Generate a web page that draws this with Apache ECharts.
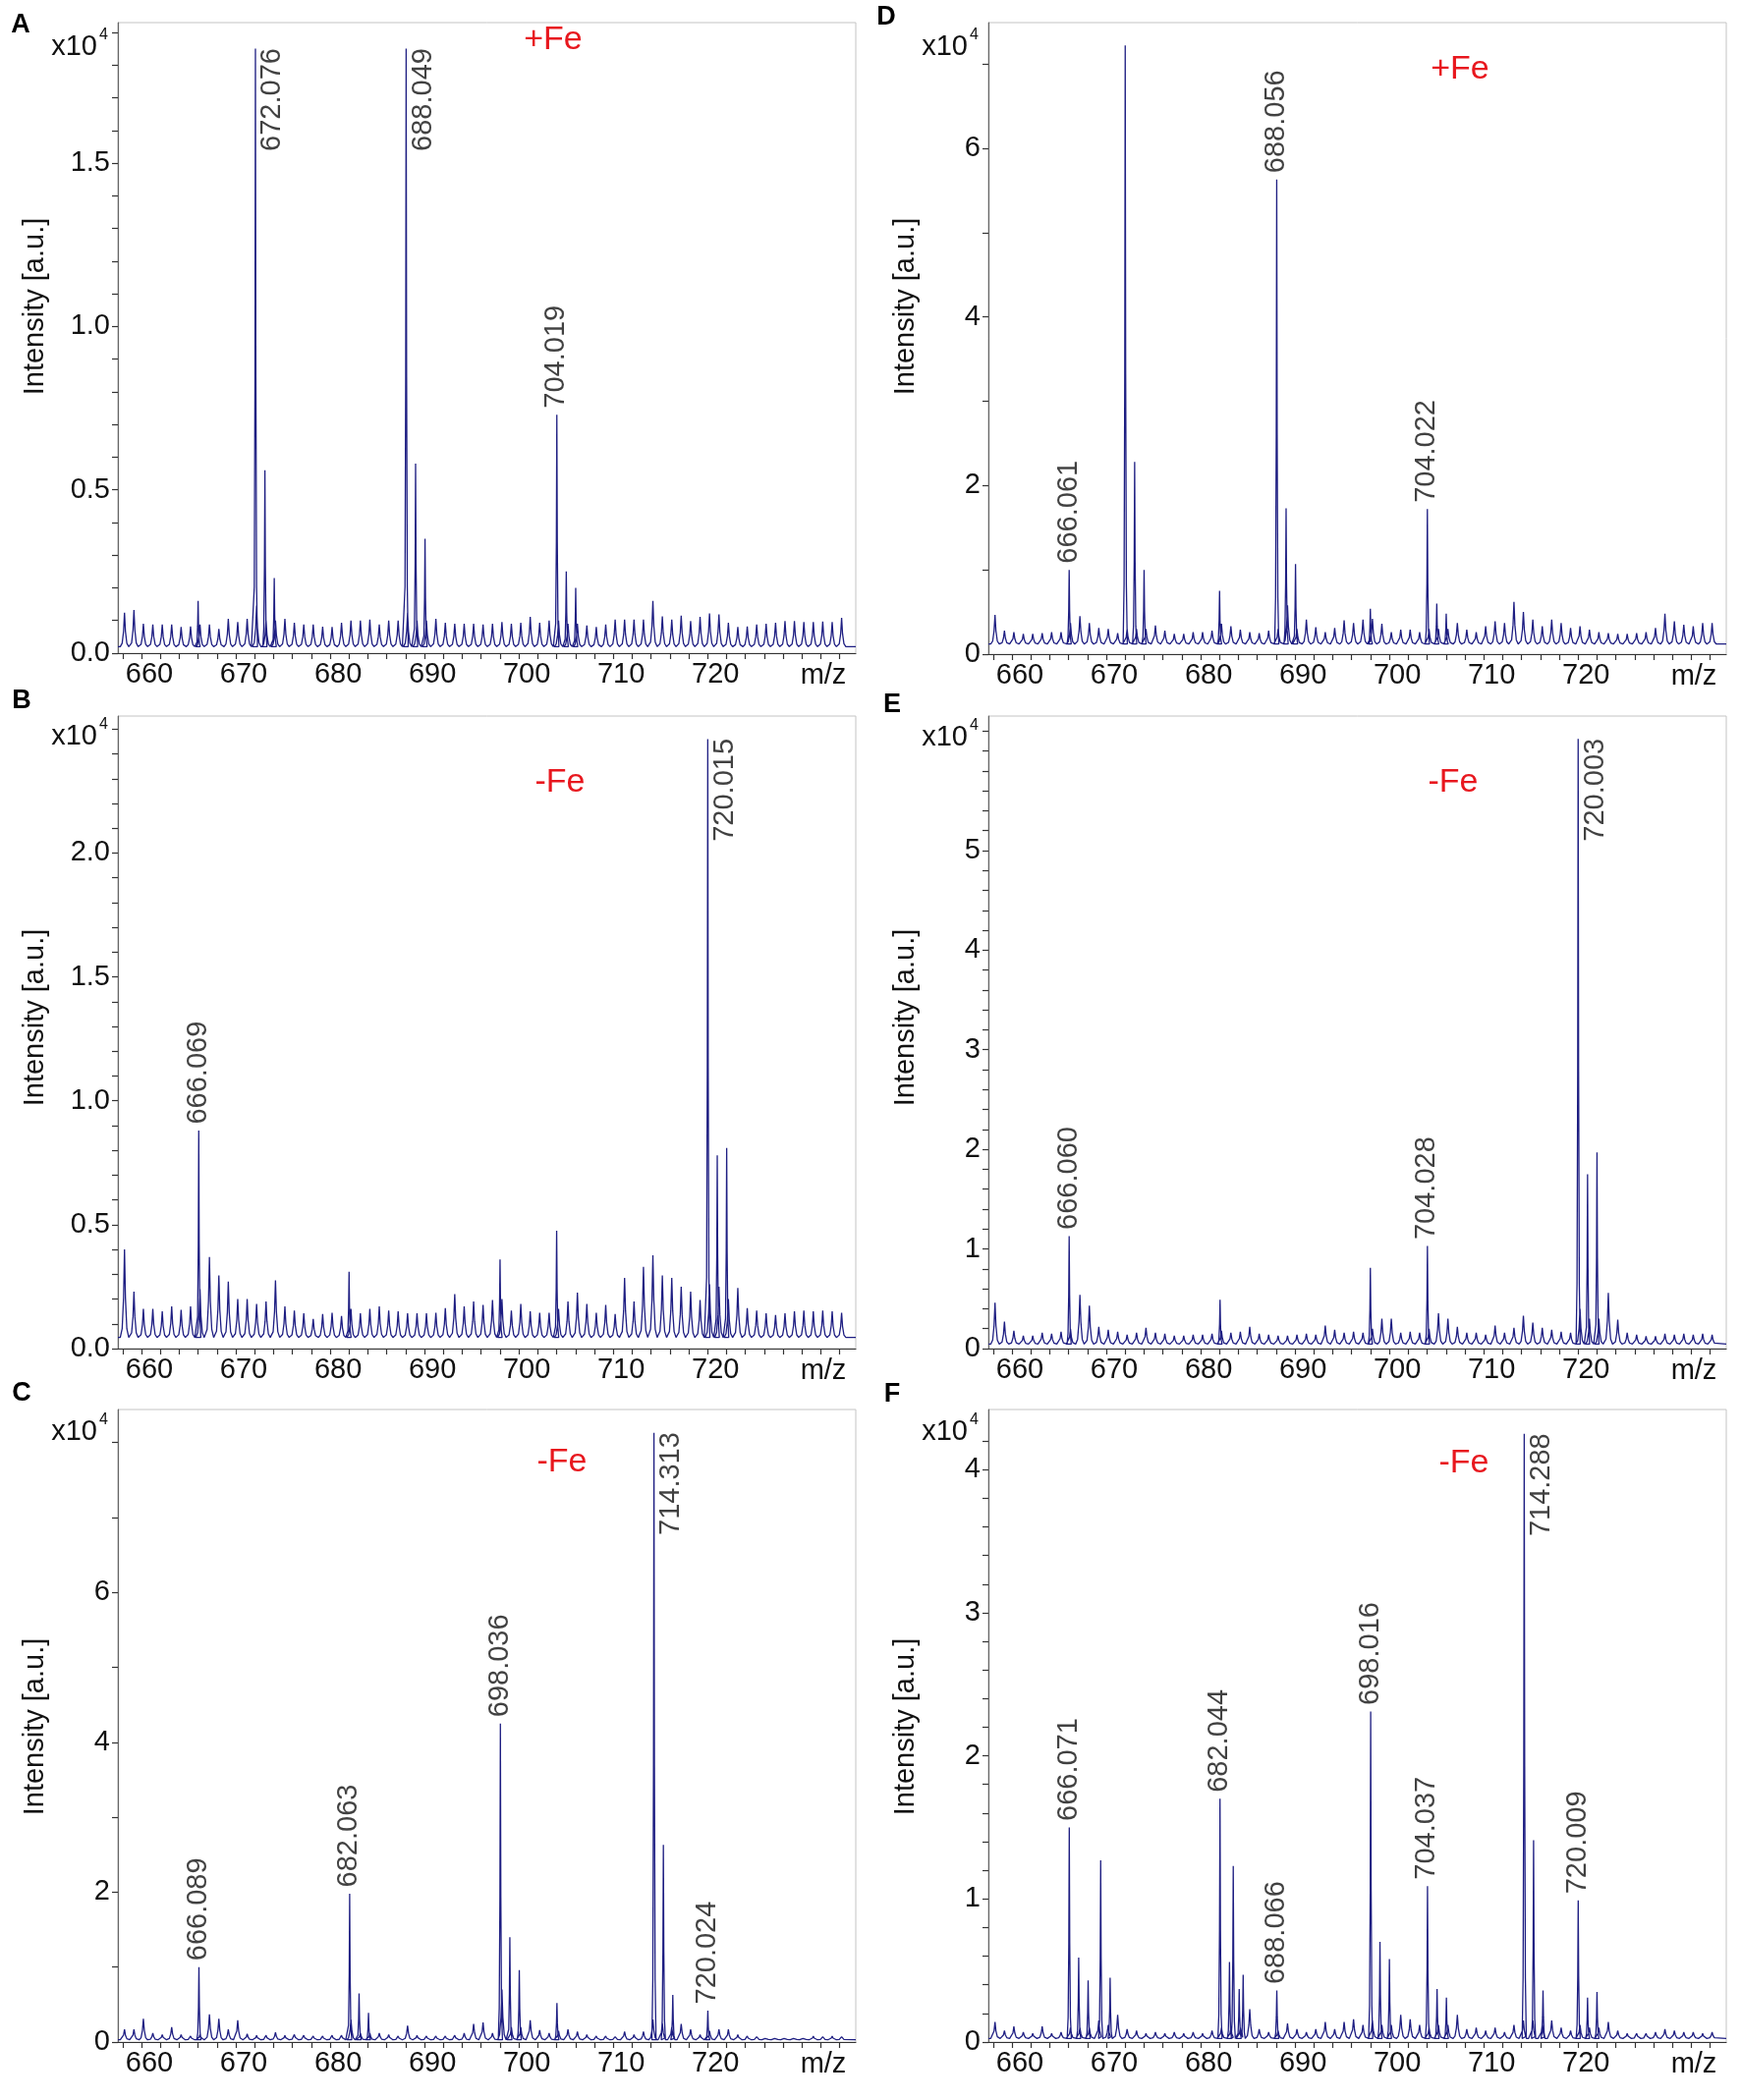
<!DOCTYPE html>
<html>
<head>
<meta charset="utf-8">
<script src="https://cdn.jsdelivr.net/npm/echarts@6/dist/echarts.min.js"></script>
<style>
html,body{margin:0;padding:0;background:#ffffff;}
#chart{width:1772px;height:2138px;}
</style>
</head>
<body>
<div id="chart"></div>
<script>
// ---------------- DATA (intensities in units of 10^4) ----------------
// comb (background) peaks at each nominal m/z from 658 to 734
const COMB_START = 658;

const combA = [0.124,0.132,0.09,0.088,0.088,0.088,0.08,0.082,0.088,0.088,
  0.074,0.105,0.095,0.105,0.146,0.1,0.1,0.105,0.093,0.088,
  0.088,0.081,0.08,0.093,0.1,0.1,0.103,0.088,0.1,0.1,
  0.124,0.1,0.1,0.105,0.093,0.09,0.09,0.09,0.088,0.09,
  0.095,0.09,0.093,0.111,0.093,0.1,0.1,0.09,0.09,0.085,
  0.08,0.088,0.103,0.103,0.103,0.103,0.16,0.113,0.103,0.115,
  0.098,0.111,0.122,0.119,0.093,0.08,0.082,0.088,0.09,0.093,
  0.098,0.098,0.095,0.095,0.097,0.095,0.108];
const peaksA = [[666.0,0.16],[672.076,1.85],[673.08,0.56],[674.07,0.23],[688.049,1.85],[689.05,0.58],[690.05,0.35],[704.019,0.73],[705.02,0.25],[706.02,0.20]];
const labelsA = ['672.076','688.049','704.019'];
const sideA = ['672.076','688.049'];

const combB = [0.40,0.23,0.16,0.16,0.15,0.17,0.156,0.17,0.24,0.37,
  0.295,0.27,0.20,0.20,0.18,0.19,0.275,0.17,0.153,0.143,
  0.12,0.14,0.145,0.132,0.16,0.143,0.16,0.17,0.153,0.15,
  0.143,0.143,0.143,0.145,0.163,0.22,0.17,0.19,0.176,0.196,
  0.20,0.153,0.18,0.15,0.145,0.145,0.16,0.19,0.226,0.18,
  0.145,0.176,0.14,0.285,0.19,0.33,0.377,0.295,0.285,0.25,
  0.23,0.196,0.26,0.25,0.20,0.245,0.163,0.153,0.143,0.136,
  0.143,0.15,0.153,0.15,0.153,0.15,0.145];
const peaksB = [[666.069,0.88],[682.0,0.31],[698.0,0.36],[704.0,0.476],[720.015,2.46],[721.02,0.78],[722.02,0.81]];
const labelsB = ['666.069','720.015'];
const sideB = ['720.015'];

const combC = [0.17,0.17,0.31,0.12,0.10,0.20,0.10,0.08,0.10,0.37,
  0.31,0.17,0.29,0.11,0.09,0.09,0.13,0.09,0.10,0.09,
  0.08,0.08,0.09,0.09,0.30,0.12,0.12,0.12,0.10,0.08,
  0.22,0.09,0.08,0.08,0.08,0.09,0.12,0.24,0.26,0.12,
  0.70,0.20,0.20,0.29,0.16,0.12,0.15,0.17,0.14,0.10,
  0.08,0.08,0.07,0.14,0.10,0.14,0.30,0.25,0.20,0.24,
  0.17,0.10,0.15,0.17,0.17,0.10,0.08,0.07,0.07,0.07,
  0.07,0.07,0.07,0.08,0.07,0.08,0.07];
const peaksC = [[666.089,1.0],[682.063,1.98],[683.06,0.65],[684.06,0.39],[698.036,4.25],[699.04,1.40],[700.04,0.96],[704.03,0.52],[714.313,8.13],[715.31,2.63],[716.31,0.63],[720.024,0.42]];
const labelsC = ['666.089','682.063','698.036','714.313','720.024'];
const sideC = ['714.313'];

const combD = [0.465,0.28,0.26,0.24,0.24,0.25,0.26,0.26,0.37,0.45,
  0.37,0.31,0.30,0.25,0.30,0.30,0.30,0.34,0.28,0.24,
  0.24,0.26,0.26,0.28,0.36,0.33,0.29,0.26,0.25,0.28,
  0.30,0.58,0.30,0.41,0.32,0.26,0.31,0.40,0.37,0.41,
  0.42,0.36,0.26,0.29,0.29,0.26,0.30,0.30,0.30,0.37,
  0.29,0.26,0.33,0.39,0.37,0.62,0.50,0.41,0.33,0.41,
  0.37,0.31,0.33,0.29,0.26,0.25,0.24,0.24,0.25,0.26,
  0.31,0.48,0.39,0.35,0.33,0.37,0.37];
const peaksD = [[666.061,1.0],[672.0,7.22],[673.0,2.28],[674.0,1.0],[682.0,0.75],[688.056,5.63],[689.05,1.73],[690.05,1.07],[697.98,0.54],[704.022,1.72],[705.02,0.60],[706.02,0.48]];
const labelsD = ['666.061','688.056','704.022'];
const sideD = [];

const combE = [0.46,0.27,0.18,0.13,0.13,0.16,0.15,0.17,0.20,0.54,
  0.43,0.22,0.19,0.17,0.14,0.16,0.21,0.16,0.15,0.13,
  0.13,0.14,0.14,0.15,0.18,0.16,0.17,0.22,0.15,0.14,
  0.13,0.13,0.14,0.15,0.14,0.23,0.19,0.16,0.17,0.16,
  0.20,0.30,0.30,0.16,0.17,0.16,0.20,0.355,0.30,0.22,
  0.16,0.16,0.14,0.23,0.16,0.21,0.33,0.26,0.21,0.19,
  0.17,0.16,0.40,0.30,0.30,0.56,0.29,0.16,0.14,0.125,
  0.125,0.15,0.14,0.15,0.14,0.15,0.14];
const peaksE = [[666.060,1.13],[682.05,0.49],[697.98,0.81],[704.028,1.03],[720.003,6.12],[721.0,1.75],[722.0,1.97]];
const labelsE = ['666.060','704.028','720.003'];
const sideE = ['720.003'];

const combF = [0.14,0.08,0.11,0.07,0.06,0.11,0.06,0.07,0.10,0.10,
  0.10,0.15,0.12,0.19,0.09,0.08,0.06,0.07,0.06,0.07,
  0.06,0.07,0.06,0.08,0.10,0.10,0.10,0.23,0.09,0.07,
  0.08,0.13,0.09,0.07,0.09,0.14,0.09,0.14,0.16,0.12,
  0.15,0.12,0.12,0.19,0.16,0.12,0.10,0.12,0.12,0.19,
  0.09,0.10,0.08,0.10,0.07,0.12,0.15,0.15,0.12,0.15,
  0.10,0.08,0.12,0.10,0.10,0.14,0.08,0.06,0.06,0.06,
  0.07,0.09,0.08,0.07,0.07,0.06,0.07];
const peaksF = [[666.071,1.50],[667.07,0.59],[668.07,0.43],[669.4,1.27],[670.4,0.45],[682.044,1.70],[683.05,0.56],[683.45,1.23],[684.08,0.37],[684.5,0.47],[688.066,0.36],[698.016,2.31],[699.0,0.70],[700.0,0.58],[704.037,1.09],[705.05,0.37],[706.04,0.31],[714.288,4.25],[715.28,1.41],[716.28,0.36],[720.009,0.99],[721.0,0.31],[722.0,0.35]];
const labelsF = ['666.071','682.044','688.066','698.016','704.037','714.288','720.009'];
const sideF = ['714.288'];

// axis ticks / labels
const xTicks = [658,660,662,664,666,668,670,672,674,676,678,680,682,684,686,688,690,692,694,696,698,700,702,704,706,708,710,712,714,716,718,720,722,724,726,728,730,732,734];
const xLabels = [660,670,680,690,700,710,720];
const yTicksA = [0,0.1,0.2,0.3,0.4,0.5,0.6,0.7,0.8,0.9,1.0,1.1,1.2,1.3,1.4,1.5,1.6,1.7,1.8,1.9];
const yLabelsA = [0,0.5,1.0,1.5];
const yTicksB = [0,0.1,0.2,0.3,0.4,0.5,0.6,0.7,0.8,0.9,1.0,1.1,1.2,1.3,1.4,1.5,1.6,1.7,1.8,1.9,2.0,2.1,2.2,2.3,2.4,2.5];
const yLabelsB = [0,0.5,1.0,1.5,2.0];
const yTicksC = [0,1,2,3,4,5,6,7,8];
const yLabelsC = [0,2,4,6];
const yTicksD = [0,1,2,3,4,5,6,7];
const yLabelsD = [0,2,4,6];
const yTicksE = [0,0.2,0.4,0.6,0.8,1.0,1.2,1.4,1.6,1.8,2.0,2.2,2.4,2.6,2.8,3.0,3.2,3.4,3.6,3.8,4.0,4.2,4.4,4.6,4.8,5.0,5.2,5.4,5.6,5.8,6.0,6.2];
const yLabelsE = [0,1,2,3,4,5];
const yTicksF = [0,0.2,0.4,0.6,0.8,1.0,1.2,1.4,1.6,1.8,2.0,2.2,2.4,2.6,2.8,3.0,3.2,3.4,3.6,3.8,4.0,4.2];
const yLabelsF = [0,1,2,3,4];

const panelLetters = ['A','B','C','D','E','F'];
const conditions = ['+Fe','-Fe','-Fe','+Fe','-Fe','-Fe'];
const yTitle = 'Intensity [a.u.]';
const xUnit = 'm/z';
const multiplierText = 'x10';
const multiplierExp = '4';

// ---------------- LAYOUT / STYLE ----------------
const X_MIN = 657.5, X_MAX = 735.7;
const FONT = '"Liberation Sans", Arial, Helvetica, sans-serif';
const FS = 29;
const LINE_COLOR = '#1e1e82';
const RED = '#e8171e';
const GW = 751;
const layout = [
  {comb:combA, peaks:peaksA, labels:labelsA, side:sideA, base:0.02, yMax:1.93, yT:yTicksA, yL:yLabelsA, dec:1, left:120, top:23, h:642, cond:[563,41], letter:[21,26], x10y:48, titleY:312},
  {comb:combB, peaks:peaksB, labels:labelsB, side:sideB, base:0.045, yMax:2.553, yT:yTicksB, yL:yLabelsB, dec:1, left:120, top:729, h:644, cond:[570,797], letter:[22,714], x10y:750, titleY:1036},
  {comb:combC, peaks:peaksC, labels:labelsC, side:sideC, base:0.03, yMax:8.44, yT:yTicksC, yL:yLabelsC, dec:0, left:120, top:1435, h:644, cond:[572,1489], letter:[22,1419], x10y:1458, titleY:1758},
  {comb:combD, peaks:peaksD, labels:labelsD, side:sideD, base:0.12, yMax:7.49, yT:yTicksD, yL:yLabelsD, dec:0, left:1006, top:23, h:643, cond:[1486,71], letter:[902,18], x10y:48, titleY:312},
  {comb:combE, peaks:peaksE, labels:labelsE, side:sideE, base:0.045, yMax:6.35, yT:yTicksE, yL:yLabelsE, dec:0, left:1006, top:729, h:644, cond:[1479,797], letter:[908,718], x10y:751, titleY:1036},
  {comb:combF, peaks:peaksF, labels:labelsF, side:sideF, base:0.025, yMax:4.42, yT:yTicksF, yL:yLabelsF, dec:0, left:1006, top:1435, h:644, cond:[1490,1490], letter:[908,1420], x10y:1458, titleY:1758}
];

// peak profile shape (relative offset in half-widths, relative height)
const SHAPE = [[-1,0],[-0.55,0.1],[-0.22,0.45],[0,1],[0.22,0.45],[0.55,0.1],[1,0]];
const COMB_SHIFT = 0.2, COMB_HALF = 0.45, PEAK_HALF = 0.22;

function buildTrace(p) {
  const items = [];
  p.comb.forEach((h, i) => items.push({m: COMB_START + i + COMB_SHIFT, h: h, w: COMB_HALF}));
  p.peaks.forEach(pk => items.push({m: pk[0], h: pk[1], w: PEAK_HALF}));
  items.sort((a, b) => a.m - b.m);
  const pts = [[X_MIN, p.base]];
  items.forEach(it => SHAPE.forEach(s => pts.push([it.m + s[0] * it.w, p.base + (it.h - p.base) * s[1]])));
  pts.push([X_MAX, p.base]);
  return pts;
}

const grids = [], xAxes = [], yAxes = [], series = [], graphics = [];
layout.forEach((p, i) => {
  grids.push({left: p.left, top: p.top, width: GW, height: p.h, show: true, borderColor: '#c4c4c4', borderWidth: 1, backgroundColor: '#fff'});
  xAxes.push({
    gridIndex: i, type: 'value', min: X_MIN, max: X_MAX,
    axisLine: {show: true, onZero: false, lineStyle: {color: '#333', width: 1.2}},
    axisTick: {show: true, customValues: xTicks, length: 6, lineStyle: {color: '#333', width: 1.2}},
    axisLabel: {show: true, customValues: xLabels, fontSize: FS, fontFamily: FONT, color: '#111', margin: 7, padding: [0, 0, 0, 16]},
    splitLine: {show: false}
  });
  yAxes.push({
    gridIndex: i, type: 'value', min: 0, max: p.yMax,
    axisLine: {show: true, lineStyle: {color: '#666', width: 1.2}},
    axisTick: {show: true, customValues: p.yT, length: 6, lineStyle: {color: '#333', width: 1.2}},
    axisLabel: {show: true, customValues: p.yL, fontSize: FS, fontFamily: FONT, color: '#111', margin: 8,
      formatter: (v) => p.dec ? Number(v).toFixed(1) : String(Math.round(v))},
    splitLine: {show: false}
  });
  series.push({
    type: 'line', xAxisIndex: i, yAxisIndex: i, data: buildTrace(p),
    showSymbol: false, symbol: 'none', smooth: false, animation: false, silent: true,
    lineStyle: {color: LINE_COLOR, width: 1.3}, z: 3
  });
  const lblData = p.labels.map(s => {
    const pk = p.peaks.find(q => q[0].toFixed(3) === s);
    const isSide = p.side.indexOf(s) >= 0;
    return {
      name: s, value: [pk[0], pk[1]],
      label: isSide ? {position: [18, 0], align: 'right'} : {position: [0, -6], align: 'left'}
    };
  });
  series.push({
    type: 'scatter', xAxisIndex: i, yAxisIndex: i, data: lblData, symbolSize: 1,
    itemStyle: {color: 'rgba(0,0,0,0)'}, animation: false, silent: true, clip: false, z: 5,
    label: {show: true, formatter: '{b}', rotate: 90, verticalAlign: 'middle', fontSize: FS, fontFamily: FONT, color: '#111'}
  });
  // panel letter
  graphics.push({type: 'text', x: p.letter[0], y: p.letter[1], style: {text: panelLetters[i], font: 'bold 27px ' + FONT, fill: '#000', align: 'center', verticalAlign: 'middle', textAlign: 'center', textVerticalAlign: 'middle'}});
  // condition
  graphics.push({type: 'text', x: p.cond[0], y: p.cond[1], style: {text: conditions[i], font: '34px ' + FONT, fill: RED, align: 'center', verticalAlign: 'middle', textAlign: 'center', textVerticalAlign: 'middle'}});
  // multiplier
  graphics.push({type: 'text', x: p.left - 21, y: p.x10y, style: {text: multiplierText, font: FS + 'px ' + FONT, fill: '#111', align: 'right', verticalAlign: 'middle', textAlign: 'right', textVerticalAlign: 'middle'}});
  graphics.push({type: 'text', x: p.left - 19, y: p.x10y - 12, style: {text: multiplierExp, font: '16px ' + FONT, fill: '#111', align: 'left', verticalAlign: 'middle', textAlign: 'left', textVerticalAlign: 'middle'}});
  // y title
  graphics.push({type: 'text', x: p.left - 84, y: p.titleY, rotation: Math.PI / 2, style: {text: yTitle, font: FS + 'px ' + FONT, fill: '#111', align: 'center', verticalAlign: 'middle', textAlign: 'center', textVerticalAlign: 'middle'}});
  // m/z
  graphics.push({type: 'text', x: p.left + GW - 33, y: p.top + p.h + 23, style: {text: xUnit, font: FS + 'px ' + FONT, fill: '#111', align: 'center', verticalAlign: 'middle', textAlign: 'center', textVerticalAlign: 'middle'}});
});

const chart = echarts.init(document.getElementById('chart'), null, {renderer: 'canvas'});
chart.setOption({
  backgroundColor: '#ffffff',
  animation: false,
  grid: grids, xAxis: xAxes, yAxis: yAxes, series: series,
  graphic: graphics
});
</script>
</body>
</html>
